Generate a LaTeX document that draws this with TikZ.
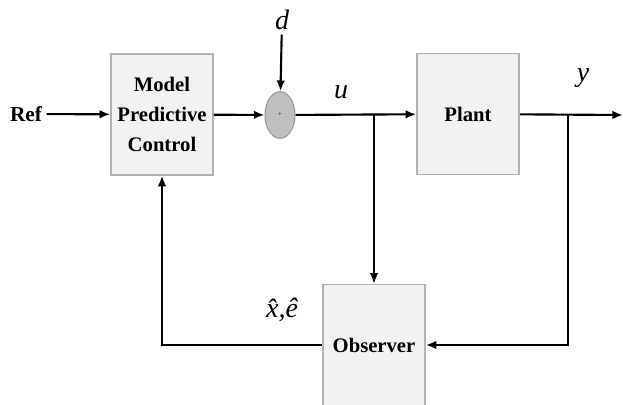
\documentclass[tikz,border=0pt]{standalone}
\usepackage{fontspec}
\setmainfont{Liberation Serif}
\usetikzlibrary{arrows.meta}
\usetikzlibrary{positioning}
\usetikzlibrary{shapes.geometric}

\begin{document}
\begin{tikzpicture}[
	x=0.75pt, y=-0.75pt,
  > = {Latex[length=8pt,width=6.5pt]},
  block/.style = {draw=gray!60, fill=gray!10, line width=1.2pt, minimum width=76.5pt, minimum height=90.5pt, align=center, font=\fontsize{15.5}{22.5}\selectfont\bfseries},
  sum/.style = {ellipse, draw=gray!80, fill=gray!50, line width=0.8pt, minimum width=22.5pt, minimum height=35pt, inner sep=0pt},
  sig/.style = {font=\fontsize{21}{24}\selectfont\itshape},
  wire/.style = {line width=1.6pt}
  ]
	\useasboundingbox (0,0) rectangle (623,404);

	\node[block] (mpc) at (162,114.5) {Model\\Predictive\\Control};
	\node[block] (plant) at (468,114) {Plant};
	\node[block] (obs) at (374,345) {Observer};
	\node[sum] (sum) at (280,115) {\fontsize{5}{5}\selectfont +};

	\node[font=\fontsize{16}{18}\selectfont\bfseries] (ref) at (26,114) {Ref};
	\node[sig] (d) at (282,20) {d};
	\node[sig] (u) at (341,92) {u};
	\node[sig] (y) at (583,78) {y};
	\node[sig] (xe) at (282,310) {\^x,\^e};

	\coordinate (bu) at (374,115);
	\coordinate (by) at (568,115);
	\coordinate (out) at (623,115);

  	\draw[wire,->] (ref) -- (mpc);
	\draw[wire,->] (mpc) -- (sum);
	\draw[wire,->] (d) -- (sum);
	\draw[wire,->] (sum) -- (plant);
	\draw[wire,->] (bu) -- (obs);
	\draw[wire,->] (plant) -- (out);
	\draw[wire,->] (by) |- (obs);
	\draw[wire,->] (obs) -| (mpc);

\end{tikzpicture}
\end{document}
